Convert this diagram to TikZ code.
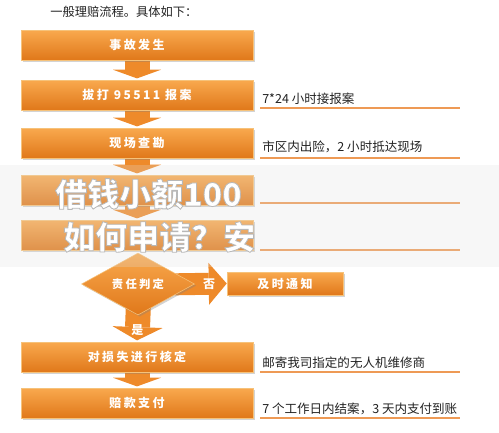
\documentclass[tikz,border=0pt]{standalone}
\usepackage{fontspec}
\setmainfont{Noto Sans CJK SC}
\newfontfamily\boxfont{Noto Sans CJK SC}[LetterSpace=20]
\usetikzlibrary{shapes.geometric,arrows.meta,shadows,backgrounds}
\definecolor{boxtop}{HTML}{F9A94E}
\definecolor{boxbot}{HTML}{E0781A}
\definecolor{boxedge}{HTML}{F6C27A}
\definecolor{arrowcol}{HTML}{EE8A2A}
\definecolor{linecol}{HTML}{EE9A55}
\definecolor{textcol}{HTML}{222222}
\newcommand\wmoutline{\special{pdf:code 0.72 G 2 Tr 0.6 w}}
\begin{document}
\begin{tikzpicture}[x=0.75pt, y=-0.75pt,
		stepbox/.style={rectangle, minimum width=174pt, minimum height=22.5pt, inner sep=0pt,
			top color=boxtop, bottom color=boxbot, draw=boxedge, line width=0.4pt,
			text=white, font=\boxfont\bfseries\fontsize{9}{11}\selectfont,
			drop shadow={shadow xshift=1.2pt, shadow yshift=-1.2pt, opacity=.35}},
		decision/.style={diamond, aspect=1.82, minimum width=84.75pt, minimum height=46.5pt, inner sep=0pt,
			top color=boxtop, bottom color=boxbot, draw=boxedge, line width=0.4pt,
			text=white, font=\boxfont\bfseries\fontsize{8.5}{10}\selectfont,
			drop shadow={shadow xshift=1.2pt, shadow yshift=-1.2pt, opacity=.35}},
		flowarrow/.style={draw=arrowcol, line width=18.75pt,
			-{Triangle[width=36pt, length=6.5pt, line width=0pt]}, shorten >=1pt},
		sidearrow/.style={draw=arrowcol, line width=16.5pt,
			-{Triangle[width=31.5pt, length=13.5pt, line width=0pt]}, shorten <=-15pt},
		arrowlabel/.style={text=white, font=\bfseries\fontsize{9}{10}\selectfont, inner sep=0pt},
		notetext/.style={anchor=west, inner sep=0pt, text=textcol, font=\fontsize{9.4}{11}\selectfont},
		uline/.style={draw=linecol, line width=1.1pt},
		wmtext/.style={anchor=west, inner sep=0pt, text=white, font=\bfseries\fontsize{24}{26}\selectfont}]
	\useasboundingbox (0,0) rectangle (499,432);
	\node[anchor=west, inner sep=0pt, text=textcol, font=\fontsize{9.2}{11}\selectfont] (title) at (50,12) {一般理赔流程。具体如下：};
	\node[stepbox] (b1) at (137,45) {事故发生};
	\node[stepbox] (b2) at (137,95) {拔打 95511 报案};
	\node[stepbox] (b3) at (137,143) {现场查勘};
	\node[stepbox] (b4) at (137,190) {};
	\node[stepbox] (b5) at (137,235) {};
	\node[decision] (dia) at (138,284) {责任判定};
	\node[stepbox, minimum width=87pt, minimum height=17.25pt] (notice) at (285,283.5) {及时通知};
	\node[stepbox] (b6) at (137,357) {对损失进行核定};
	\node[stepbox] (b7) at (137,403) {赔款支付};
	\begin{scope}[on background layer]
		\draw[flowarrow] (b1.south) -- (b2.north);
		\draw[flowarrow] (b2.south) -- (b3.north);
		\draw[flowarrow] (b3.south) -- (b4.north);
		\draw[flowarrow] (b4.south) -- (b5.north);
		\draw[sidearrow] (dia.east) -- node[arrowlabel, pos=0.45] {否} (notice.west);
		\draw[flowarrow, shorten <=-8pt, -{Triangle[width=37.5pt, length=10pt, line width=0pt]}] (dia.south) -- node[arrowlabel, pos=0.58] {是} (b6.north);
		\draw[flowarrow] (b6.south) -- (b7.north);
	\end{scope}
	\node[notetext] (n1) at (262,99) {7*24 小时接报案};
	\node[notetext] (n2) at (262,147) {市区内出险，2 小时抵达现场};
	\node[notetext] (n6) at (262,363) {邮寄我司指定的无人机维修商};
	\node[notetext] (n7) at (262,409) {7 个工作日内结案，3 天内支付到账};
	\draw[uline] (260,108) -- (460,108);
	\draw[uline] (260,158) -- (460,158);
	\draw[uline] (260,203) -- (460,203);
	\draw[uline] (260,250) -- (460,250);
	\draw[uline] (260,372) -- (460,372);
	\draw[uline] (260,418) -- (460,418);
	\fill[gray!25, opacity=0.25] (0,165) rectangle (499,267);
	\node[wmtext] (wm1) at (55,194) {\wmoutline 借钱小额100};
	\node[wmtext] (wm2) at (63,237) {\wmoutline 如何申请？安};
\end{tikzpicture}
\end{document}
